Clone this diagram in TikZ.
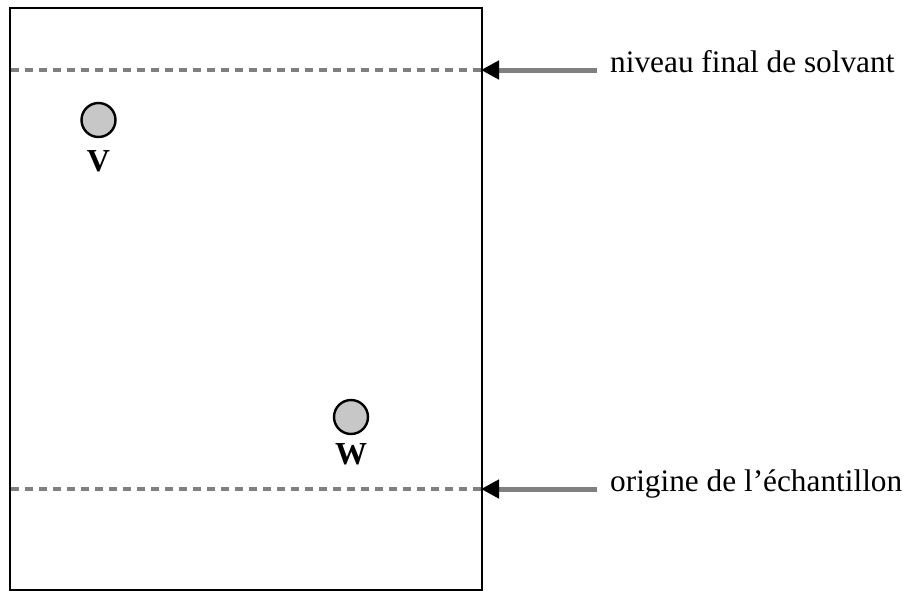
\documentclass[tikz,border=0pt]{standalone}
\usepackage{fontspec}
\setmainfont{Liberation Serif}
\usetikzlibrary{arrows.meta}
\begin{document}
\begin{tikzpicture}[x=1pt,y=-1pt,
  plate/.style={draw=black,line width=2.8pt},
  level/.style={draw=black!50,line width=3.4pt,dash pattern=on 8pt off 6pt},
  spot/.style={circle,draw=black,line width=2.4pt,fill=black!22,minimum size=34pt,inner sep=0pt},
  spotlabel/.style={font=\fontsize{32}{36}\selectfont\bfseries,inner sep=0pt},
  lbl/.style={font=\fontsize{31.3}{36}\selectfont,anchor=mid west,inner sep=0pt},
  pointer/.style={draw=black!50,line width=5pt,-{Triangle[length=18pt,width=18pt,color=black]}}]
\useasboundingbox (0,0) rectangle (911,592);
\draw[plate] (10,8) rectangle (482,590);
\coordinate (l1a) at (11,70);
\coordinate (l1b) at (481,70);
\coordinate (l2a) at (11,489);
\coordinate (l2b) at (481,489);
\draw[level] (l1a) -- (l1b);
\draw[level] (l2a) -- (l2b);
\node[spot] (V) at (98.5,120) {};
\node[spotlabel] (Vl) at (98.5,161) {V};
\node[spot] (W) at (351,417) {};
\node[spotlabel] (Wl) at (351,454) {W};
\node[lbl] (t1) at (610,70) {niveau final de solvant};
\node[lbl] (t2) at (610,489) {origine de l’échantillon};
\coordinate (s1) at (597,70);
\coordinate (s2) at (597,489);
\draw[pointer] (s1) -- (l1b);
\draw[pointer] (s2) -- (l2b);
\end{tikzpicture}
\end{document}
